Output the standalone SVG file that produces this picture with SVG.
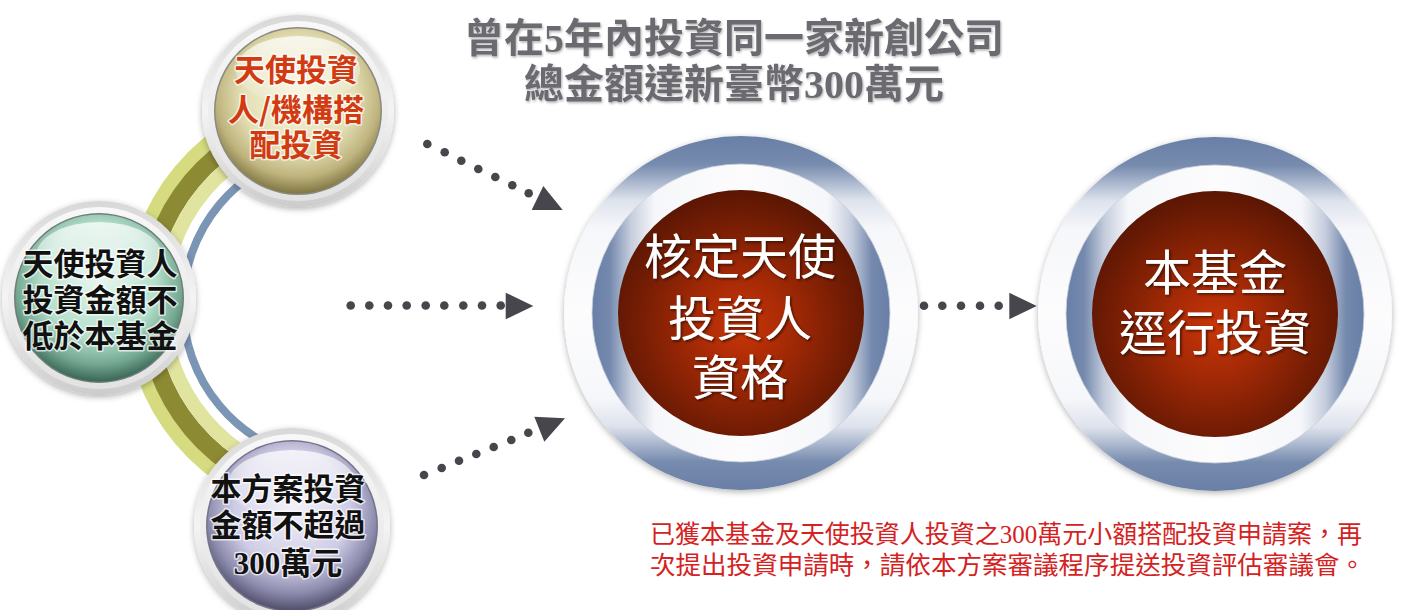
<svg xmlns="http://www.w3.org/2000/svg" width="1405" height="610" viewBox="0 0 1405 610">
<style>
.cjk{font-family:'Noto Sans CJK TC','Noto Sans CJK SC',sans-serif}
.num{font-family:'Liberation Serif',serif;font-weight:bold}
.title{fill:#6a6a70;font-weight:bold}
.small{font-size:31px;font-weight:bold;text-anchor:middle;stroke:#ffffff;stroke-width:3;stroke-opacity:0.7;paint-order:stroke;stroke-linejoin:round}
.big{font-size:48px;fill:#ffffff;text-anchor:middle}
.note{font-size:25px;fill:#d42222}
.dot{fill:#47464d}
</style>
<defs>
<filter id="shadow" x="-20%" y="-20%" width="140%" height="140%">
<feDropShadow dx="0" dy="2" stdDeviation="3" flood-color="#000" flood-opacity="0.3"/>
</filter>
<filter id="tshadow" x="-10%" y="-10%" width="120%" height="130%">
<feDropShadow dx="1.5" dy="1.5" stdDeviation="1" flood-color="#2a0800" flood-opacity="0.8"/>
</filter>
<filter id="ttshadow" x="-5%" y="-10%" width="110%" height="130%">
<feDropShadow dx="1" dy="1.5" stdDeviation="1" flood-color="#000" flood-opacity="0.3"/>
</filter>
<linearGradient id="ringGrey" x1="0" y1="0" x2="0" y2="1">
<stop offset="0" stop-color="#d8d8d8"/>
<stop offset="0.5" stop-color="#f4f4f4"/>
<stop offset="1" stop-color="#cccccc"/>
</linearGradient>
<linearGradient id="ringGrey2" x1="0" y1="0" x2="0" y2="1">
<stop offset="0" stop-color="#f8f8f8"/>
<stop offset="1" stop-color="#e2e2e2"/>
</linearGradient>
<radialGradient id="discY" cx="0.5" cy="0.4" r="0.62">
<stop offset="0" stop-color="#f6f4dc"/>
<stop offset="0.55" stop-color="#e3dfb4"/>
<stop offset="0.8" stop-color="#bfb47e"/>
<stop offset="1" stop-color="#756b38"/>
</radialGradient>
<radialGradient id="discG" cx="0.5" cy="0.4" r="0.62">
<stop offset="0" stop-color="#e4f5ec"/>
<stop offset="0.55" stop-color="#b4dfcb"/>
<stop offset="0.8" stop-color="#74a892"/>
<stop offset="1" stop-color="#2f5a4a"/>
</radialGradient>
<radialGradient id="discP" cx="0.5" cy="0.4" r="0.62">
<stop offset="0" stop-color="#f0eff8"/>
<stop offset="0.55" stop-color="#cfcde6"/>
<stop offset="0.8" stop-color="#8e8cae"/>
<stop offset="1" stop-color="#45435e"/>
</radialGradient>
<linearGradient id="gloss" x1="0" y1="0" x2="0" y2="1">
<stop offset="0" stop-color="#ffffff" stop-opacity="0.75"/>
<stop offset="1" stop-color="#ffffff" stop-opacity="0.05"/>
</linearGradient>
<linearGradient id="outerRing" x1="0" y1="0" x2="0" y2="1">
<stop offset="0" stop-color="#6a7fa6"/>
<stop offset="0.08" stop-color="#768bae"/>
<stop offset="0.18" stop-color="#dde2ec"/>
<stop offset="0.26" stop-color="#f6f7fa"/>
<stop offset="0.5" stop-color="#fcfcfd"/>
<stop offset="0.74" stop-color="#f6f7fa"/>
<stop offset="0.82" stop-color="#dde2ec"/>
<stop offset="0.92" stop-color="#768bae"/>
<stop offset="1" stop-color="#6a7fa6"/>
</linearGradient>
<linearGradient id="innerRing" x1="0" y1="0" x2="1" y2="0">
<stop offset="0" stop-color="#6a7fa6"/>
<stop offset="0.06" stop-color="#7489ad"/>
<stop offset="0.13" stop-color="#c5cddd"/>
<stop offset="0.21" stop-color="#f6f7fa"/>
<stop offset="0.5" stop-color="#fcfcfd"/>
<stop offset="0.79" stop-color="#f6f7fa"/>
<stop offset="0.87" stop-color="#c5cddd"/>
<stop offset="0.94" stop-color="#7489ad"/>
<stop offset="1" stop-color="#6a7fa6"/>
</linearGradient>
<radialGradient id="redDisc" cx="0.5" cy="0.55" r="0.55">
<stop offset="0" stop-color="#c93508"/>
<stop offset="0.35" stop-color="#a62a06"/>
<stop offset="0.7" stop-color="#7c1f04"/>
<stop offset="1" stop-color="#5a1603"/>
</radialGradient>
</defs>

<rect width="1405" height="610" fill="#ffffff"/>

<!-- decorative arc behind small circles -->
<g id="arc" fill="none">
<path d="M 303.7 99.3 A 209 209 0 0 0 303.7 510.7" stroke="#d5db7e" stroke-width="14"/>
<path d="M 306.5 114.9 A 193 193 0 0 0 306.5 495.1" stroke="#8d8a34" stroke-width="18"/>
<path d="M 309.3 130.7 A 177 177 0 0 0 309.3 479.3" stroke="#e0e49e" stroke-width="14"/>
<path d="M 312.7 150.4 A 157 157 0 0 0 312.7 459.6" stroke="#7b95b4" stroke-width="8"/>
</g>

<g id="title" class="cjk title" filter="url(#ttshadow)">
<text x="734" y="52" font-size="40" text-anchor="middle">曾在<tspan class="num">5</tspan>年內投資同一家新創公司</text>
<text x="734" y="98" font-size="40" text-anchor="middle">總金額達新臺幣<tspan class="num">300</tspan>萬元</text>
</g>

<g id="node-angel-match">
<circle cx="298" cy="111" r="96" fill="url(#ringGrey)" filter="url(#shadow)"/>
<circle cx="298" cy="111" r="90" fill="url(#ringGrey2)"/>
<circle cx="298" cy="111" r="84" fill="#8a8a80"/>
<circle cx="298" cy="111" r="82.5" fill="url(#discY)"/>
<ellipse cx="298" cy="70" rx="62" ry="34" fill="url(#gloss)"/>
<text class="cjk small" fill="#d23a12"><tspan x="296" y="81">天使投資</tspan><tspan x="296" y="121">人/機構搭</tspan><tspan x="296" y="156">配投資</tspan></text>
</g>

<g id="node-amount-min">
<circle cx="99" cy="298" r="97" fill="url(#ringGrey)" filter="url(#shadow)"/>
<circle cx="99" cy="298" r="91" fill="url(#ringGrey2)"/>
<circle cx="99" cy="298" r="85" fill="#6f7f78"/>
<circle cx="99" cy="298" r="83.5" fill="url(#discG)"/>
<ellipse cx="99" cy="256" rx="63" ry="34" fill="url(#gloss)"/>
<text class="cjk small" fill="#111111"><tspan x="100" y="275">天使投資人</tspan><tspan x="100" y="311">投資金額不</tspan><tspan x="100" y="347">低於本基金</tspan></text>
</g>

<g id="node-amount-max">
<circle cx="292" cy="526" r="98" fill="url(#ringGrey)" filter="url(#shadow)"/>
<circle cx="292" cy="526" r="92" fill="url(#ringGrey2)"/>
<circle cx="292" cy="526" r="86" fill="#76748a"/>
<circle cx="292" cy="526" r="84.5" fill="url(#discP)"/>
<ellipse cx="292" cy="484" rx="64" ry="34" fill="url(#gloss)"/>
<text class="cjk small" fill="#111111"><tspan x="288" y="500">本方案投資</tspan><tspan x="288" y="536">金額不超過</tspan><tspan x="288" y="574"><tspan class="num">300</tspan>萬元</tspan></text>
</g>

<g id="connectors">
<circle class="dot" cx="427.3" cy="144" r="4.3"/>
<circle class="dot" cx="444.7" cy="152.3" r="4.3"/>
<circle class="dot" cx="461.3" cy="160.7" r="4.3"/>
<circle class="dot" cx="478.3" cy="169" r="4.3"/>
<circle class="dot" cx="495.3" cy="177" r="4.3"/>
<circle class="dot" cx="512.3" cy="185.3" r="4.3"/>
<circle class="dot" cx="528.7" cy="193.3" r="4.3"/>
<polygon class="dot" points="543.3,186 531.7,210 562.7,210"/>

<circle class="dot" cx="350.7" cy="305.5" r="4.3"/>
<circle class="dot" cx="369.3" cy="305.5" r="4.3"/>
<circle class="dot" cx="388" cy="305.5" r="4.3"/>
<circle class="dot" cx="406.7" cy="305.5" r="4.3"/>
<circle class="dot" cx="425.7" cy="305.5" r="4.3"/>
<circle class="dot" cx="444.3" cy="305.5" r="4.3"/>
<circle class="dot" cx="463.3" cy="305.5" r="4.3"/>
<circle class="dot" cx="482" cy="305.5" r="4.3"/>
<circle class="dot" cx="500.7" cy="305.5" r="4.3"/>
<polygon class="dot" points="505.7,292.7 505.7,319.3 533.3,306"/>

<circle class="dot" cx="424" cy="475" r="4.3"/>
<circle class="dot" cx="441.7" cy="468" r="4.3"/>
<circle class="dot" cx="459" cy="460.7" r="4.3"/>
<circle class="dot" cx="476.3" cy="454" r="4.3"/>
<circle class="dot" cx="493.7" cy="447" r="4.3"/>
<circle class="dot" cx="511.3" cy="440" r="4.3"/>
<circle class="dot" cx="528.3" cy="432.7" r="4.3"/>
<polygon class="dot" points="534.3,416.7 565,418.3 544.3,441.7"/>

<circle class="dot" cx="924" cy="305.7" r="4.3"/>
<circle class="dot" cx="942.3" cy="305.7" r="4.3"/>
<circle class="dot" cx="961" cy="305.7" r="4.3"/>
<circle class="dot" cx="980" cy="305.7" r="4.3"/>
<circle class="dot" cx="998.7" cy="305.7" r="4.3"/>
<polygon class="dot" points="1009.3,292.7 1009.3,319.3 1036.7,306"/>
</g>

<g id="node-verify">
<circle cx="741" cy="313" r="177" fill="url(#outerRing)" filter="url(#shadow)"/>
<circle cx="741" cy="313" r="149" fill="url(#innerRing)" stroke="#c9ceda" stroke-width="0.8"/>
<circle cx="741" cy="313" r="123" fill="url(#redDisc)"/>
<text class="cjk big" filter="url(#tshadow)"><tspan x="740" y="274">核定天使</tspan><tspan x="740" y="336">投資人</tspan><tspan x="740" y="395">資格</tspan></text>
</g>

<g id="node-invest">
<circle cx="1215" cy="314" r="177" fill="url(#outerRing)" filter="url(#shadow)"/>
<circle cx="1215" cy="314" r="149" fill="url(#innerRing)" stroke="#c9ceda" stroke-width="0.8"/>
<circle cx="1215" cy="314" r="123" fill="url(#redDisc)"/>
<text class="cjk big" filter="url(#tshadow)"><tspan x="1215" y="290">本基金</tspan><tspan x="1215" y="350">逕行投資</tspan></text>
</g>

<g id="note" class="cjk note">
<text x="650" y="543" textLength="712" lengthAdjust="spacingAndGlyphs">已獲本基金及天使投資人投資之<tspan font-family="Liberation Serif">300</tspan>萬元小額搭配投資申請案，再</text>
<text x="650" y="574" textLength="715" lengthAdjust="spacingAndGlyphs">次提出投資申請時，請依本方案審議程序提送投資評估審議會。</text>
</g>
</svg>
